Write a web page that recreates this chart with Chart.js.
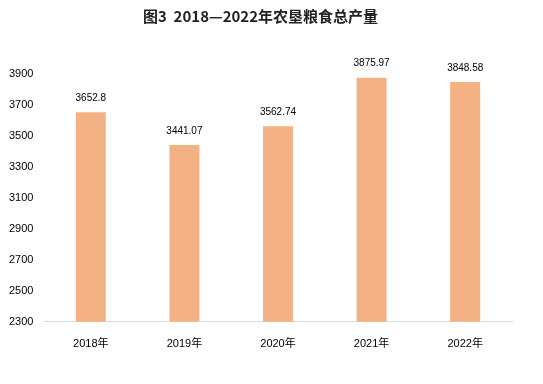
<!DOCTYPE html>
<html>
<head>
<meta charset="utf-8">
<script src="https://cdn.jsdelivr.net/npm/chart.js@4.4.0/dist/chart.umd.min.js"></script>
<style>
  html, body { margin: 0; padding: 0; background: #fff; }
  #wrap { width: 543px; height: 384px; }
</style>
</head>
<body>
<div id="wrap"><canvas id="grainChart"></canvas></div>
<script>
const years = ['2018年', '2019年', '2020年', '2021年', '2022年'];
const output = [3652.8, 3441.07, 3562.74, 3875.97, 3848.58];
const yTicks = [2300, 2500, 2700, 2900, 3100, 3300, 3500, 3700, 3900];

// draw value labels above each bar
const valueLabels = {
    id: 'valueLabels',
    afterDatasetsDraw(chart) {
        const ctx = chart.ctx;
        const meta = chart.getDatasetMeta(0);
        ctx.save();
        ctx.font = '10px "Liberation Sans", Arial, sans-serif';
        ctx.fillStyle = '#000';
        ctx.textAlign = 'center';
        ctx.textBaseline = 'bottom';
        meta.data.forEach((bar, i) => {
            ctx.fillText(String(output[i]), bar.x, bar.y - 9);
        });
        ctx.restore();
    }
};

new Chart(document.getElementById('grainChart'), {
    type: 'bar',
    data: {
        labels: years,
        datasets: [{
            data: output,
            backgroundColor: '#f4b183',
            barPercentage: 0.64,
            categoryPercentage: 0.5
        }]
    },
    options: {
        responsive: true,
        maintainAspectRatio: false,
        animation: false,
        layout: { padding: { left: 9, right: 31, top: 0, bottom: 25 } },
        plugins: {
            legend: { display: false },
            tooltip: { enabled: false },
            title: {
                display: true,
                text: '图3  2018—2022年农垦粮食总产量',
                color: '#222',
                font: { family: '"Noto Sans CJK SC", sans-serif', size: 15, weight: 'bold' },
                padding: { top: 7, bottom: 49 }
            }
        },
        scales: {
            y: {
                min: 2300,
                max: 3900,
                afterBuildTicks(scale) { scale.ticks = yTicks.map(v => ({ value: v })); },
                afterFit(scale) { scale.width = 35; },
                grid: { display: false },
                border: { display: false },
                ticks: {
                    crossAlign: 'far',
                    padding: 0,
                    color: '#000',
                    callback: v => String(v),
                    font: { family: '"Liberation Sans", Arial, sans-serif', size: 11 }
                }
            },
            x: {
                grid: { display: false },
                border: { display: true, color: '#d9d9d9', width: 1 },
                ticks: {
                    color: '#000',
                    padding: 8,
                    font: { family: '"Liberation Sans", "Noto Sans CJK SC", sans-serif', size: 11 }
                }
            }
        }
    },
    plugins: [valueLabels]
});
</script>
</body>
</html>
